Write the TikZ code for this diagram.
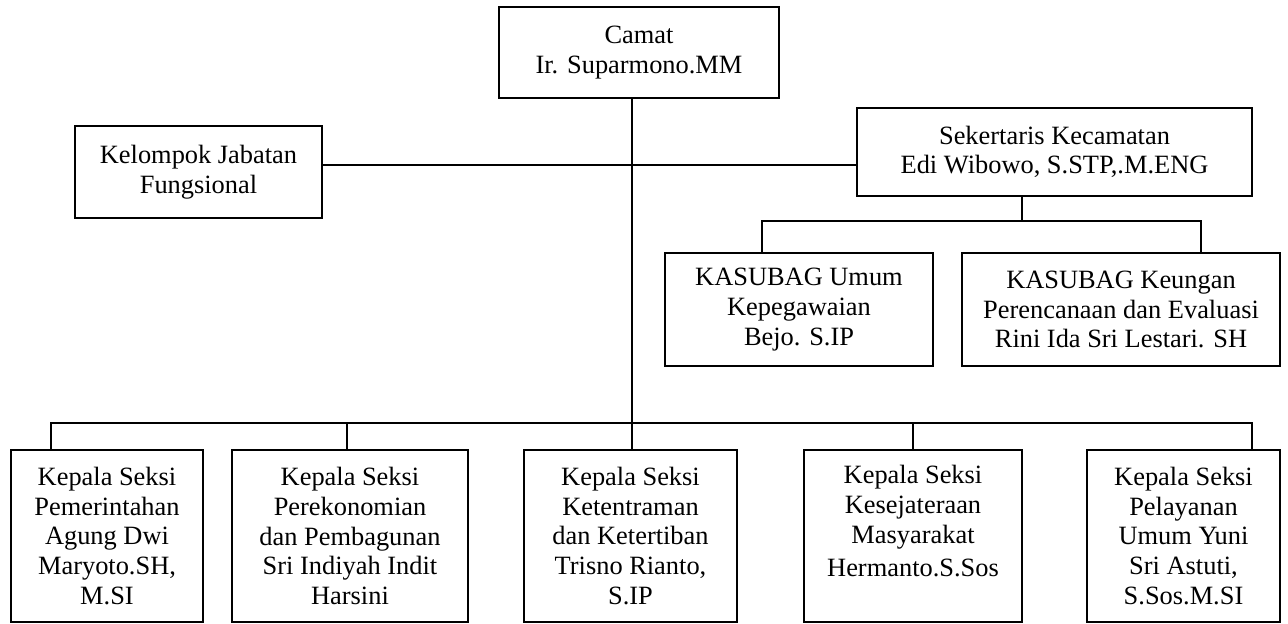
\documentclass[tikz,border=0pt]{standalone}
\usepackage{fontspec}
\setmainfont{Liberation Serif}
\newcommand{\ks}{Kepala Seksi}

\begin{document}
\begin{tikzpicture}[x=0.5pt,y=-0.5pt,line width=1pt,
   box/.style={draw,align=center,inner sep=0pt,font=\fontsize{13.2}{14.8}\selectfont},
   link/.style={line cap=rect}]
   \useasboundingbox (0,0) rectangle (1288,623);
   % upper part
   \node[box,minimum width=140pt,minimum height=45.5pt] (camat) at (639,52.5) {Camat\\Ir. Suparmono.MM};
   \node[box,minimum width=123.5pt,minimum height=46pt] (kjf) at (198.5,172) {Kelompok Jabatan\\Fungsional};
   \node[box,minimum width=197.5pt,minimum height=44pt] (sekcam) at (1054.5,152) {Sekertaris Kecamatan\\Edi Wibowo, S.STP,.M.ENG};
   \node[box,minimum width=134pt,minimum height=56.5pt] (umum) at (799,309.5) {KASUBAG Umum\\Kepegawaian\\Bejo. S.IP};
   \node[box,minimum width=159pt,minimum height=56.5pt] (keu) at (1121,309.5) {KASUBAG Keungan\\Perencanaan dan Evaluasi\\Rini Ida Sri Lestari. SH};
   % kepala seksi
   \node[box,minimum width=96pt,minimum height=86pt] (s1) at (107,536) {\ks\\Pemerintahan\\Agung Dwi\\Maryoto.SH,\\M.SI};
   \node[box,minimum width=118pt,minimum height=86pt] (s2) at (350,536) {\ks\\Perekonomian\\dan Pembagunan\\Sri Indiyah Indit\\Harsini};
   \node[box,minimum width=106.5pt,minimum height=86pt] (s3) at (630.5,536) {\ks\\Ketentraman\\dan Ketertiban\\Trisno Rianto,\\S.IP};
   \node[box,minimum width=109pt,minimum height=86pt] (s4) at (913,536) {\ks\\Kesejateraan\\Masyarakat\\[2pt]Hermanto.S.Sos\\\mbox{}};
   \node[box,minimum width=96.5pt,minimum height=86pt] (s5) at (1183.5,536) {\ks\\Pelayanan\\Umum Yuni\\Sri Astuti,\\S.Sos.M.SI};
   % connectors
   \coordinate (fl) at (0,165);
   \coordinate (sb) at (1022,221);
   \coordinate (ub) at (762,221);
   \coordinate (kb) at (1201,221);
   \coordinate (d1) at (51,423);
   \coordinate (d2) at (347,423);
   \coordinate (d3) at (632,423);
   \coordinate (d4) at (913,423);
   \coordinate (d5) at (1252,423);
   \draw[link] (camat.south -| d3) -- (d3);
   \draw[link] (kjf.east |- fl) -- (sekcam.west |- fl);
   \draw[link] (sekcam.south -| sb) -- (sb);
   \draw[link] (umum.north -| ub) -- (ub) -- (kb) -- (keu.north -| kb);
   \draw[link] (d1) -- (d5);
   \foreach \i in {1,...,5}
      \draw[link] (d\i) -- (s\i.north -| d\i);
\end{tikzpicture}
\end{document}
